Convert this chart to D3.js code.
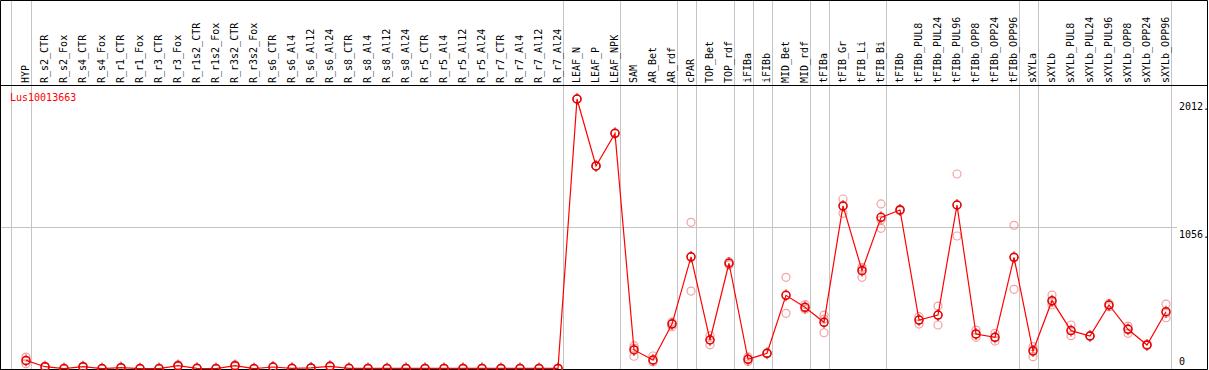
<!DOCTYPE html>
<html>
<head>
<meta charset="utf-8">
<script src="https://cdn.jsdelivr.net/npm/d3@7"></script>
<style>
  body { margin: 0; background: #fff; }
  svg { display: block; }
  text { font-family: "DejaVu Sans Mono", monospace; font-size: 10px; }
</style>
</head>
<body>
<div id="chart"></div>
<script>
// sample names (one column each)
var SAMPLES = ["HYP", "R_s2_CTR", "R_s2_Fox", "R_s4_CTR", "R_s4_Fox", "R_r1_CTR", "R_r1_Fox",
  "R_r3_CTR", "R_r3_Fox", "R_r1s2_CTR", "R_r1s2_Fox", "R_r3s2_CTR", "R_r3s2_Fox", "R_s6_CTR",
  "R_s6_Al4", "R_s6_Al12", "R_s6_Al24", "R_s8_CTR", "R_s8_Al4", "R_s8_Al12", "R_s8_Al24",
  "R_r5_CTR", "R_r5_Al4", "R_r5_Al12", "R_r5_Al24", "R_r7_CTR", "R_r7_Al4", "R_r7_Al12", "R_r7_Al24",
  "LEAF_N", "LEAF_P", "LEAF_NPK", "SAM", "AR_Bet", "AR_rdf", "cPAR", "TOP_Bet", "TOP_rdf",
  "iFIBa", "iFIBb", "MID_Bet", "MID_rdf", "tFIBa", "tFIB_Gr", "tFIB_Li", "tFIB_Bi", "tFIBb",
  "tFIBb_PUL8", "tFIBb_PUL24", "tFIBb_PUL96", "tFIBb_OPP8", "tFIBb_OPP24", "tFIBb_OPP96",
  "sXYLa", "sXYLb", "sXYLb_PUL8", "sXYLb_PUL24", "sXYLb_PUL96", "sXYLb_OPP8", "sXYLb_OPP24", "sXYLb_OPP96"];

// mean expression per sample
var MEANS = [64, 17, 3, 17, 3, 10, 3, 3, 25, 5, 3, 25, 3, 15, 5, 8, 20, 5, 4, 4, 4, 4, 4, 4, 4, 4, 4, 4, 4,
  2012, 1513, 1756, 142, 67, 335, 836, 216, 788, 72, 117, 549, 460, 348, 1215, 733, 1130, 1185,
  365, 402, 1222, 261, 236, 832, 134, 509, 286, 246, 477, 296, 179, 427];

// replicate values per sample
var REP1 = [89, 20, 3, 20, 3, 12, 3, 3, 30, 5, 3, 30, 3, 18, 5, 9, 24, 5, 4, 4, 4, 4, 4, 4, 4, 4, 4, 4, 4,
  2012, 1513, 1756, 174, 97, 350, 1093, 248, 800, 90, 115, 683, 480, 402, 1267, 758, 1230, 1190,
  390, 469, 1453, 290, 266, 1071, 166, 551, 328, 250, 489, 320, 184, 484];
var REP2 = [60, 17, 3, 17, 3, 10, 3, 3, 25, 5, 3, 25, 3, 15, 5, 8, 20, 5, 4, 4, 4, 4, 4, 4, 4, 4, 4, 4, 4,
  2012, 1513, 1756, 156, 52, 315, 834, 220, 790, 72, 118, 549, 455, 372, 1215, 745, 1110, 1185,
  365, 402, 1222, 258, 236, 832, 145, 500, 286, 244, 477, 300, 178, 415];
var REP3 = [40, 14, 3, 14, 3, 8, 3, 3, 20, 5, 3, 20, 3, 12, 5, 7, 16, 5, 4, 4, 4, 4, 4, 4, 4, 4, 4, 4, 4,
  2012, 1513, 1756, 95, 60, 340, 581, 180, 775, 55, 118, 415, 445, 270, 1160, 683, 1048, 1180,
  335, 328, 991, 236, 208, 594, 92, 477, 248, 244, 464, 266, 175, 382];

// columns after which a group separator is drawn
var SEPARATORS = ["HYP", "R_r7_Al24", "LEAF_NPK", "AR_rdf", "cPAR", "TOP_rdf", "iFIBa", "iFIBb",
  "MID_rdf", "tFIBa", "tFIB_Bi", "tFIBb_OPP96", "sXYLa", "sXYLb_OPP96"];

// y axis labels
var TICK_VALUES = [0, 1056, 2012];
var TICK_LABELS = ["0", "1056.", "2012."];

var SERIES_NAME = "Lus10013663";

function drawChart() {
  var width = 1209, height = 370;
  var headerBottom = 85.5;
  var frameRight = 1207.5;

  var svg = d3.select("#chart").append("svg")
    .attr("width", width)
    .attr("height", height);

  // x scale: one point per sample
  var x = d3.scalePoint()
    .domain(SAMPLES)
    .range([26, 1166]);

  // y scale
  var y = d3.scaleLinear()
    .domain([0, 2012])
    .range([369, 99]);

  // group separators (gray vertical lines)
  var sepX = [x(SAMPLES[0]) - 14.5].concat(SEPARATORS.map(function (s) { return x(s) + 5.5; }));
  svg.append("g").selectAll("line")
    .data(sepX)
    .enter().append("line")
    .attr("x1", function (d) { return d; })
    .attr("x2", function (d) { return d; })
    .attr("y1", 0)
    .attr("y2", 369)
    .attr("stroke", "#c4c4c4")
    .attr("stroke-width", 1);

  // horizontal grid line at middle tick
  svg.append("line")
    .attr("x1", 0).attr("x2", 1177)
    .attr("y1", Math.round(y(1056)) + 0.5)
    .attr("y2", Math.round(y(1056)) + 0.5)
    .attr("stroke", "#c4c4c4");

  // frame
  svg.append("path")
    .attr("d", "M0.5,369.5 V0.5 H" + frameRight + " V369.5")
    .attr("fill", "none")
    .attr("stroke", "#000");
  svg.append("line")
    .attr("x1", 0).attr("x2", frameRight)
    .attr("y1", headerBottom).attr("y2", headerBottom)
    .attr("stroke", "#000");
  svg.append("line")
    .attr("x1", 0).attr("x2", frameRight)
    .attr("y1", 369.5).attr("y2", 369.5)
    .attr("stroke", "#000");

  // column labels (rotated)
  svg.append("g").selectAll("text")
    .data(SAMPLES)
    .enter().append("text")
    .attr("transform", function (d) { return "translate(" + (x(d) + 3) + ",83) rotate(-90)"; })
    .attr("fill", "#000")
    .text(function (d) { return d; });

  // series name
  svg.append("text")
    .attr("x", 10)
    .attr("y", 101)
    .attr("fill", "#ff0000")
    .text(SERIES_NAME);

  // right axis labels
  svg.append("g").selectAll("text")
    .data(TICK_VALUES)
    .enter().append("text")
    .attr("x", 1179)
    .attr("y", function (d) { return Math.min(y(d) + 11, 365); })
    .attr("fill", "#000")
    .text(function (d, i) { return TICK_LABELS[i]; });

  // replicate circles
  var reps = [];
  SAMPLES.forEach(function (s, i) {
    [REP1[i], REP2[i], REP3[i]].forEach(function (v) { reps.push({ s: s, v: v }); });
  });
  svg.append("g").selectAll("circle")
    .data(reps)
    .enter().append("circle")
    .attr("cx", function (d) { return x(d.s); })
    .attr("cy", function (d) { return y(d.v); })
    .attr("r", 4)
    .attr("fill", "none")
    .attr("stroke", "#f08a8a")
    .attr("stroke-opacity", 0.8)
    .attr("stroke-width", 1.2);

  // mean line
  var line = d3.line()
    .x(function (d, i) { return x(SAMPLES[i]); })
    .y(function (d) { return y(d); });
  svg.append("path")
    .datum(MEANS)
    .attr("d", line)
    .attr("fill", "none")
    .attr("stroke", "#ff0000")
    .attr("stroke-width", 1.2);

  // mean circles with small ticks
  var means = svg.append("g").selectAll("g")
    .data(MEANS)
    .enter().append("g")
    .attr("transform", function (d, i) { return "translate(" + x(SAMPLES[i]) + "," + y(d) + ")"; });
  means.append("circle")
    .attr("r", 4)
    .attr("fill", "none")
    .attr("stroke", "#e00000")
    .attr("stroke-width", 1.5);
  means.append("path")
    .attr("d", "M0,-6V-3M0,3V6")
    .attr("stroke", "#e00000")
    .attr("stroke-width", 1);
}

window.onload = drawChart;
</script>
</body>
</html>
